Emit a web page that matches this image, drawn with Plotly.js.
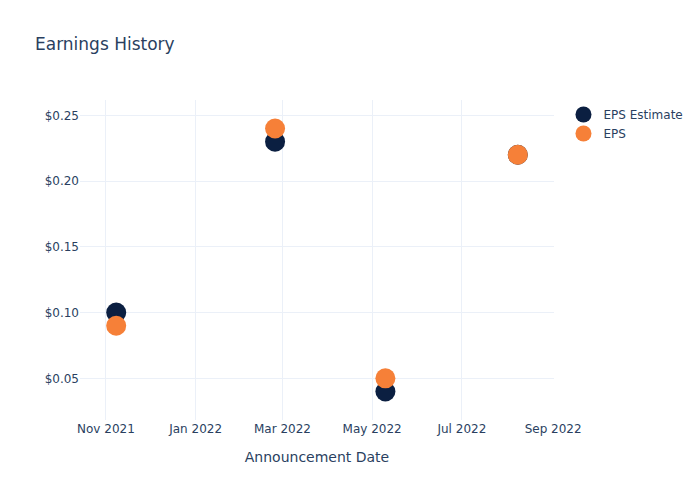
<!DOCTYPE html>
<html>
<head>
<meta charset="utf-8">
<script src="https://cdn.plot.ly/plotly-3.0.1.min.js"></script>
<style>body{margin:0;padding:0;}#chart{width:700px;height:500px;}</style>
</head>
<body>
<div id="chart"></div>
<script>
const dates = ["2021-11-08", "2022-02-24", "2022-05-10", "2022-08-08"];
const epsEstimate = [0.10, 0.23, 0.04, 0.22];
const eps = [0.09, 0.24, 0.05, 0.22];

const traces = [
  {x: dates, y: epsEstimate, name: "EPS Estimate", type: "scatter", mode: "markers",
   marker: {color: "#0b1f41", size: 20}},
  {x: dates, y: eps, name: "EPS", type: "scatter", mode: "markers",
   marker: {color: "#f68038", size: 20}}
];

const layout = {
  width: 700, height: 500,
  font: {family: "DejaVu Sans, sans-serif", color: "#2a3f5f", size: 12},
  paper_bgcolor: "white", plot_bgcolor: "white",
  title: {text: "Earnings History", x: 0.05, font: {size: 17}},
  margin: {t: 100, b: 80, l: 80, r: 80},
  xaxis: {title: {text: "Announcement Date", standoff: 17}, automargin: true, type: "date",
          gridcolor: "#EBF0F8", zeroline: false, showline: false, tickformat: "%b %Y", dtick: "M2"},
  yaxis: {tickprefix: "$", tickformat: ".2f", gridcolor: "#EBF0F8", zeroline: false,
          automargin: true, dtick: 0.05},
  legend: {x: 1.02, y: 1, font: {size: 12}},
  showlegend: true
};

Plotly.newPlot("chart", traces, layout, {displayModeBar: false});
</script>
</body>
</html>
